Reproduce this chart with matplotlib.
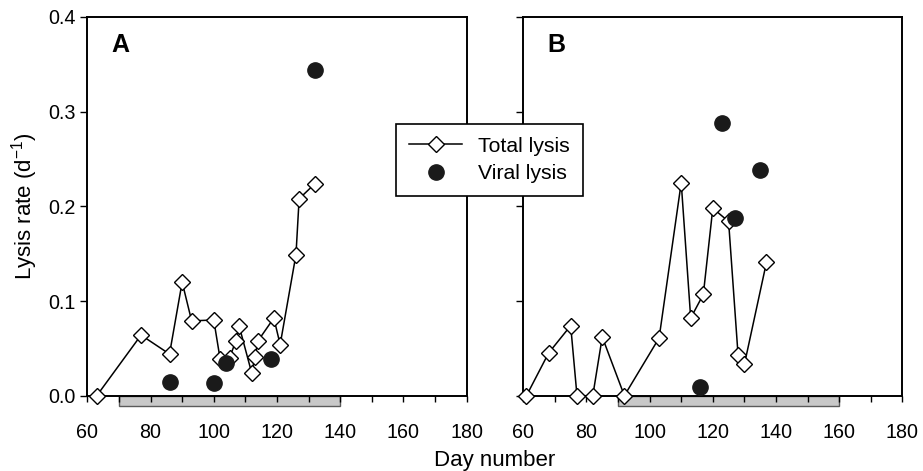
import matplotlib
matplotlib.use("Agg")
import matplotlib.pyplot as plt
from matplotlib.patches import Rectangle
from matplotlib.ticker import MultipleLocator

plt.rcParams['font.family'] = ['Liberation Sans', 'DejaVu Sans']

# Panel A data (day number, lysis rate per day)
a_total_days = [63, 77, 86, 90, 93, 100, 102, 105, 107, 108, 112, 113, 114, 119, 121, 126, 127, 132]
a_total_rate = [0.0, 0.064, 0.044, 0.120, 0.079, 0.080, 0.039, 0.040, 0.058, 0.074,
                0.024, 0.041, 0.058, 0.082, 0.054, 0.149, 0.208, 0.224]
a_viral_days = [86, 100, 104, 118, 132]
a_viral_rate = [0.014, 0.013, 0.035, 0.039, 0.344]
a_period = (70, 140)

# Panel B data
b_total_days = [61, 68, 75, 77, 82, 85, 92, 103, 110, 113, 117, 120, 125, 128, 130, 137]
b_total_rate = [0.0, 0.045, 0.074, 0.0, 0.0, 0.062, 0.0, 0.061, 0.225, 0.082,
                0.107, 0.198, 0.184, 0.043, 0.033, 0.141]
b_viral_days = [116, 123, 127, 135]
b_viral_rate = [0.009, 0.288, 0.188, 0.238]
b_period = (90, 160)

x_ticks = [60, 80, 100, 120, 140, 160, 180]
y_ticks = [0.0, 0.1, 0.2, 0.3, 0.4]


# draws one panel: total lysis line, viral lysis dots, grey bar under the axis
def draw_panel(ax, letter, total_days, total_rate, viral_days, viral_rate, period, show_ylabels):
    line, = ax.plot(total_days, total_rate, color='black', lw=1.1, marker='D', ms=8.2,
                    mfc='white', mec='black', mew=1.0, clip_on=False, zorder=3, label='Total lysis')
    dots, = ax.plot(viral_days, viral_rate, ls='none', marker='o', ms=11, color='#1a1a1a',
                    clip_on=False, zorder=4, label='Viral lysis')

    # grey bar just below the x axis
    bar = Rectangle((period[0], -0.0272), period[1] - period[0], 0.0272,
                    transform=ax.get_xaxis_transform(), clip_on=False,
                    facecolor='#c8c8c8', edgecolor='#5a5a5a', lw=1.0, zorder=1)
    ax.add_patch(bar)

    ax.set_xlim(60, 180)
    ax.set_ylim(0, 0.4)
    ax.set_xticks(x_ticks)
    ax.xaxis.set_minor_locator(MultipleLocator(10))
    ax.set_yticks(y_ticks)
    if show_ylabels:
        ax.set_yticklabels([f"{v:.1f}" for v in y_ticks])
    else:
        ax.set_yticklabels([])

    ax.tick_params(axis='x', which='both', direction='out', length=4.5, width=1.0,
                   pad=15.5, labelsize=14.2)
    ax.tick_params(axis='y', direction='out', length=5, width=1.0, pad=3.5, labelsize=14.2)
    for sp in ax.spines.values():
        sp.set_linewidth(1.4)

    ax.text(0.064, 0.908, letter, transform=ax.transAxes, fontsize=18,
            fontweight='bold', ha='left', va='baseline')
    return line, dots


fig = plt.figure(figsize=(9.23, 4.71), dpi=100)
ax_a = fig.add_axes([87.3 / 923, 1 - 395.7 / 471, 379.4 / 923, 378.7 / 471])
ax_b = fig.add_axes([523.3 / 923, 1 - 395.7 / 471, 379.0 / 923, 378.7 / 471])

line, dots = draw_panel(ax_a, 'A', a_total_days, a_total_rate, a_viral_days, a_viral_rate, a_period, True)
draw_panel(ax_b, 'B', b_total_days, b_total_rate, b_viral_days, b_viral_rate, b_period, False)

ax_a.set_ylabel(r'Lysis rate (d$^{\mathregular{-1}}$)', fontsize=16, labelpad=6)
fig.text(494.8 / 923, 1 - 466 / 471, 'Day number', fontsize=16, ha='center', va='baseline')

leg = fig.legend(handles=[line, dots], loc='center', bbox_to_anchor=(489.5 / 923, 1 - 160 / 471),
                 frameon=True, fancybox=False, edgecolor='black', framealpha=1,
                 fontsize=15.3, handlelength=2.5, handletextpad=0.75, labelspacing=0.4,
                 borderpad=0.6)
leg.get_frame().set_linewidth(1.2)

fig.savefig('out.png', dpi=100)
